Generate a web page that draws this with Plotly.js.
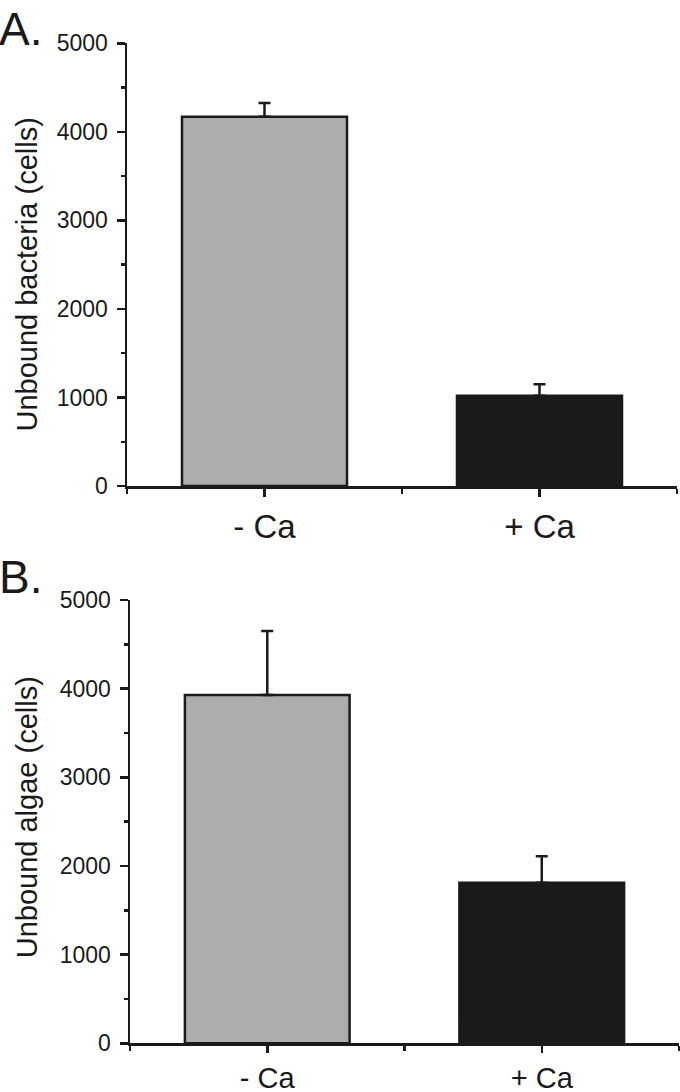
<!DOCTYPE html>
<html>
<head>
<meta charset="utf-8">
<script src="https://cdn.plot.ly/plotly-3.0.1.min.js"></script>
<style>html,body{margin:0;padding:0;background:#fff;}#chart{width:680px;height:1092px;}</style>
</head>
<body>
<div id="chart"></div>
<script>
// Data
const categories = ['- Ca', '+ Ca'];
const bacteriaValues = [4170, 1020];
const bacteriaErrors = [155, 130];
const algaeValues = [3930, 1810];
const algaeErrors = [720, 300];
const barColors = ['#adadad', '#1a1a1a'];
const panelLabels = ['A.', 'B.'];
const yTitles = ['Unbound bacteria (cells)', 'Unbound algae (cells)'];
const yTickVals = [0, 1000, 2000, 3000, 4000, 5000];

const xPos = categories.map((c, i) => i + 1);
const ink = '#1a1a1a';
const font = 'Liberation Sans, Arial, sans-serif';

function barTrace(vals, errs, xa, ya) {
  return {
    type: 'bar', x: xPos, y: vals, xaxis: xa, yaxis: ya, width: 0.6,
    marker: {color: barColors, line: {color: ink, width: 2.5}},
    error_y: {type: 'data', array: errs, arrayminus: errs.map(() => 0), symmetric: false,
              color: ink, thickness: 2.5, width: 6},
    showlegend: false, hoverinfo: 'skip'
  };
}

function xAxis(domain, anchor, standoff, size, len) {
  return {
    domain: domain, anchor: anchor, range: [0.5, 2.5], showgrid: false, zeroline: false,
    showline: true, linecolor: ink, linewidth: 2.5,
    tickmode: 'array', tickvals: xPos, ticktext: categories,
    ticks: 'outside', ticklen: len, tickwidth: 2.5, tickcolor: ink,
    minor: {tickmode: 'linear', tick0: 0.5, dtick: 1, ticks: 'outside', ticklen: 5, tickwidth: 2.5, tickcolor: ink},
    tickfont: {family: font, size: size, color: ink}, ticklabelstandoff: standoff, fixedrange: true
  };
}
function yAxis(domain, anchor) {
  return {
    domain: domain, anchor: anchor, range: [0, 5000], showgrid: false, zeroline: false,
    showline: true, linecolor: ink, linewidth: 2.5,
    tickmode: 'array', tickvals: yTickVals, ticktext: yTickVals.map(String),
    ticks: 'outside', ticklen: 8, tickwidth: 2.5, tickcolor: ink,
    minor: {tickmode: 'linear', tick0: 500, dtick: 1000, ticks: 'outside', ticklen: 4, tickwidth: 2.5, tickcolor: ink},
    tickfont: {family: font, size: 23, color: ink}, ticklabelstandoff: 4, fixedrange: true
  };
}

const data = [
  barTrace(bacteriaValues, bacteriaErrors, 'x', 'y'),
  barTrace(algaeValues, algaeErrors, 'x2', 'y2')
];

const yDomA = [0.5549, 0.9603];
const yDomB = [0.0446, 0.4505];

const layout = {
  width: 680, height: 1092,
  margin: {l: 0, r: 0, t: 0, b: 0},
  paper_bgcolor: '#ffffff', plot_bgcolor: '#ffffff',
  xaxis: xAxis([127/680, 677/680], 'y', 2, 33, 8),
  yaxis: yAxis(yDomA, 'x'),
  xaxis2: xAxis([130/680, 679/680], 'y2', 0, 29, 7),
  yaxis2: yAxis(yDomB, 'x2'),
  annotations: [
    {text: panelLabels[0], xref: 'paper', yref: 'paper', x: -0.004, y: 0.999, xanchor: 'left', yanchor: 'top',
     showarrow: false, font: {family: font, size: 46, color: ink}},
    {text: panelLabels[1], xref: 'paper', yref: 'paper', x: -0.004, y: 0.497, xanchor: 'left', yanchor: 'top',
     showarrow: false, font: {family: font, size: 46, color: ink}},
    {text: yTitles[0], xref: 'paper', yref: 'paper', x: 27/680, y: (yDomA[0] + yDomA[1]) / 2 - 0.009,
     xanchor: 'center', yanchor: 'middle', textangle: -90, showarrow: false,
     font: {family: font, size: 29, color: ink}},
    {text: yTitles[1], xref: 'paper', yref: 'paper', x: 27/680, y: (yDomB[0] + yDomB[1]) / 2 + 0.004,
     xanchor: 'center', yanchor: 'middle', textangle: -90, showarrow: false,
     font: {family: font, size: 29, color: ink}}
  ]
};

Plotly.newPlot('chart', data, layout, {staticPlot: true, displayModeBar: false});
</script>
</body>
</html>
